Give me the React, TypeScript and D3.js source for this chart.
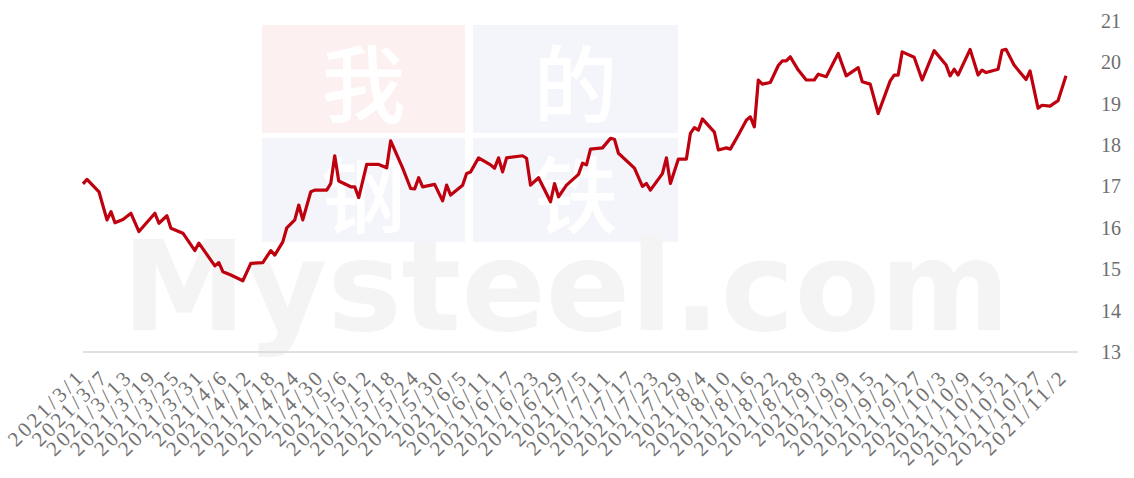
import React, { useEffect, useRef } from 'react';
import * as d3 from 'd3';

// dates and prices
const dates = [
  '2021/3/1', '2021/3/2', '2021/3/5', '2021/3/7', '2021/3/8', '2021/3/9', '2021/3/11', '2021/3/13',
  '2021/3/15', '2021/3/19', '2021/3/20', '2021/3/22', '2021/3/23', '2021/3/26', '2021/3/29', '2021/3/30',
  '2021/4/3', '2021/4/4', '2021/4/5', '2021/4/7', '2021/4/10', '2021/4/12', '2021/4/15', '2021/4/17',
  '2021/4/18', '2021/4/20', '2021/4/21', '2021/4/23', '2021/4/24', '2021/4/25', '2021/4/27', '2021/4/28',
  '2021/5/1', '2021/5/2', '2021/5/3', '2021/5/4', '2021/5/7', '2021/5/8', '2021/5/9', '2021/5/11',
  '2021/5/14', '2021/5/16', '2021/5/17', '2021/5/20', '2021/5/22', '2021/5/23', '2021/5/24', '2021/5/25',
  '2021/5/28', '2021/5/30', '2021/5/31', '2021/6/1', '2021/6/4', '2021/6/5', '2021/6/6', '2021/6/8',
  '2021/6/11', '2021/6/12', '2021/6/13', '2021/6/14', '2021/6/15', '2021/6/19', '2021/6/20', '2021/6/21',
  '2021/6/23', '2021/6/26', '2021/6/27', '2021/6/28', '2021/6/30', '2021/7/3', '2021/7/4', '2021/7/5',
  '2021/7/6', '2021/7/9', '2021/7/11', '2021/7/12', '2021/7/13', '2021/7/17', '2021/7/19', '2021/7/20',
  '2021/7/21', '2021/7/24', '2021/7/25', '2021/7/26', '2021/7/28', '2021/7/30', '2021/7/31', '2021/8/1',
  '2021/8/2', '2021/8/3', '2021/8/6', '2021/8/7', '2021/8/9', '2021/8/10', '2021/8/12', '2021/8/14',
  '2021/8/15', '2021/8/16', '2021/8/17', '2021/8/18', '2021/8/20', '2021/8/22', '2021/8/23', '2021/8/24',
  '2021/8/25', '2021/8/27', '2021/8/29', '2021/8/31', '2021/9/1', '2021/9/3', '2021/9/5', '2021/9/6',
  '2021/9/8', '2021/9/11', '2021/9/12', '2021/9/14', '2021/9/16', '2021/9/19', '2021/9/20', '2021/9/21',
  '2021/9/22', '2021/9/25', '2021/9/27', '2021/9/30', '2021/10/3', '2021/10/4', '2021/10/5', '2021/10/6',
  '2021/10/9', '2021/10/11', '2021/10/12', '2021/10/13', '2021/10/16', '2021/10/17', '2021/10/18', '2021/10/20',
  '2021/10/23', '2021/10/24', '2021/10/26', '2021/10/27', '2021/10/29', '2021/10/31', '2021/11/2',
];

const values = [
  17.06, 17.17, 16.87, 16.19, 16.39, 16.12, 16.2, 16.35,
  15.91, 16.35, 16.11, 16.29, 15.99, 15.87, 15.45, 15.63,
  15.08, 15.16, 14.94, 14.86, 14.72, 15.14, 15.16, 15.45,
  15.34, 15.66, 16.0, 16.19, 16.55, 16.19, 16.87, 16.91,
  16.91, 17.07, 17.74, 17.13, 16.99, 16.99, 16.73, 17.53,
  17.53, 17.45, 18.1, 17.44, 16.95, 16.94, 17.21, 16.99,
  17.05, 16.65, 17.03, 16.79, 17.03, 17.31, 17.35, 17.69,
  17.52, 17.44, 17.69, 17.35, 17.69, 17.74, 17.68, 17.03,
  17.21, 16.63, 17.07, 16.75, 17.03, 17.29, 17.56, 17.52,
  17.9, 17.93, 18.16, 18.14, 17.8, 17.44, 17.0, 17.07,
  16.91, 17.31, 17.69, 17.07, 17.66, 17.66, 18.28, 18.42,
  18.36, 18.63, 18.31, 17.88, 17.93, 17.9, 18.24, 18.6,
  18.68, 18.44, 19.57, 19.47, 19.51, 19.92, 20.03, 20.03,
  20.13, 19.81, 19.57, 19.57, 19.71, 19.65, 20.03, 20.21,
  19.67, 19.87, 19.53, 19.47, 18.76, 19.55, 19.69, 19.69,
  20.25, 20.12, 19.57, 20.28, 19.93, 19.67, 19.83, 19.69,
  20.31, 19.69, 19.81, 19.75, 19.83, 20.29, 20.31, 19.93,
  19.58, 19.79, 18.89, 18.96, 18.94, 19.07, 19.67,
];

const xTickLabels = [
  '2021/3/1', '2021/3/7', '2021/3/13', '2021/3/19', '2021/3/25', '2021/3/31', '2021/4/6',
  '2021/4/12', '2021/4/18', '2021/4/24', '2021/4/30', '2021/5/6', '2021/5/12', '2021/5/18',
  '2021/5/24', '2021/5/30', '2021/6/5', '2021/6/11', '2021/6/17', '2021/6/23', '2021/6/29',
  '2021/7/5', '2021/7/11', '2021/7/17', '2021/7/23', '2021/7/29', '2021/8/4', '2021/8/10',
  '2021/8/16', '2021/8/22', '2021/8/28', '2021/9/3', '2021/9/9', '2021/9/15', '2021/9/21',
  '2021/9/27', '2021/10/3', '2021/10/9', '2021/10/15', '2021/10/21', '2021/10/27', '2021/11/2',
];

const yTicks = [13, 14, 15, 16, 17, 18, 19, 20, 21];

const watermarkChars = ['我', '的', '钢', '铁'];

export default function App() {
  const svgRef = useRef<SVGSVGElement>(null);

  useEffect(() => {
    const svg = d3.select(svgRef.current);
    svg.selectAll('*').remove();

    const parse = d3.utcParse('%Y/%m/%d');
    const data = dates.map((d, i) => ({ date: parse(d) as Date, value: values[i] }));

    const x = d3
      .scaleUtc()
      .domain([parse('2021/3/1') as Date, parse('2021/11/5') as Date])
      .range([83, 1078]);

    const y = d3.scaleLinear().domain([13, 21]).range([352, 20.8]);

    // watermark
    const wm = svg.append('g');
    const blocks = [
      { x: 262, y: 25, w: 203, h: 108, fill: '#fcf0f0' },
      { x: 473, y: 25, w: 205, h: 108, fill: '#f3f5fa' },
      { x: 262, y: 138, w: 203, h: 104, fill: '#f3f5fa' },
      { x: 473, y: 138, w: 205, h: 104, fill: '#f3f5fa' },
    ];
    blocks.forEach((b, i) => {
      wm.append('rect')
        .attr('x', b.x)
        .attr('y', b.y)
        .attr('width', b.w)
        .attr('height', b.h)
        .attr('fill', b.fill);
      wm.append('text')
        .attr('x', b.x + b.w / 2)
        .attr('y', b.y + b.h / 2)
        .attr('text-anchor', 'middle')
        .attr('dominant-baseline', 'central')
        .attr('font-family', '"Noto Sans CJK SC", sans-serif')
        .attr('font-weight', 500)
        .attr('font-size', 84)
        .attr('fill', '#ffffff')
        .text(watermarkChars[i]);
    });
    wm.append('text')
      .attr('x', 122)
      .attr('y', 330)
      .attr('font-family', '"DejaVu Sans", sans-serif')
      .attr('font-weight', 'bold')
      .attr('font-size', 124)
      .attr('textLength', 888)
      .attr('lengthAdjust', 'spacingAndGlyphs')
      .attr('fill', '#f4f4f4')
      .text('Mysteel.com');

    // bottom axis line
    svg.append('line')
      .attr('x1', 83)
      .attr('x2', 1078)
      .attr('y1', 352)
      .attr('y2', 352)
      .attr('stroke', '#d6d6d6')
      .attr('stroke-width', 1.5);

    // x labels
    svg.append('g')
      .selectAll('text')
      .data(xTickLabels)
      .enter()
      .append('text')
      .attr('transform', (d) => `translate(${x(parse(d) as Date) + 3},${378}) rotate(-45)`)
      .attr('text-anchor', 'end')
      .attr('font-family', '"Liberation Serif", serif')
      .attr('font-size', 21)
      .attr('letter-spacing', 3)
      .attr('fill', '#727272')
      .text((d) => d);

    // y labels on the right
    svg.append('g')
      .selectAll('text')
      .data(yTicks)
      .enter()
      .append('text')
      .attr('x', 1101)
      .attr('y', (d) => y(d))
      .attr('dominant-baseline', 'central')
      .attr('font-family', '"Liberation Serif", serif')
      .attr('font-size', 20)
      .attr('fill', '#6e6e6e')
      .text((d) => d);

    const line = d3
      .line<{ date: Date; value: number }>()
      .x((d) => x(d.date))
      .y((d) => y(d.value));

    svg.append('path')
      .datum(data)
      .attr('d', line)
      .attr('fill', 'none')
      .attr('stroke', '#bf000e')
      .attr('stroke-width', 3.2)
      .attr('stroke-linejoin', 'round');
  }, []);

  return (
    <div style={{ position: 'absolute', left: 0, top: 0 }}>
      <svg ref={svgRef} width={1134} height={478} style={{ display: 'block', background: '#fff' }}></svg>
    </div>
  );
}
